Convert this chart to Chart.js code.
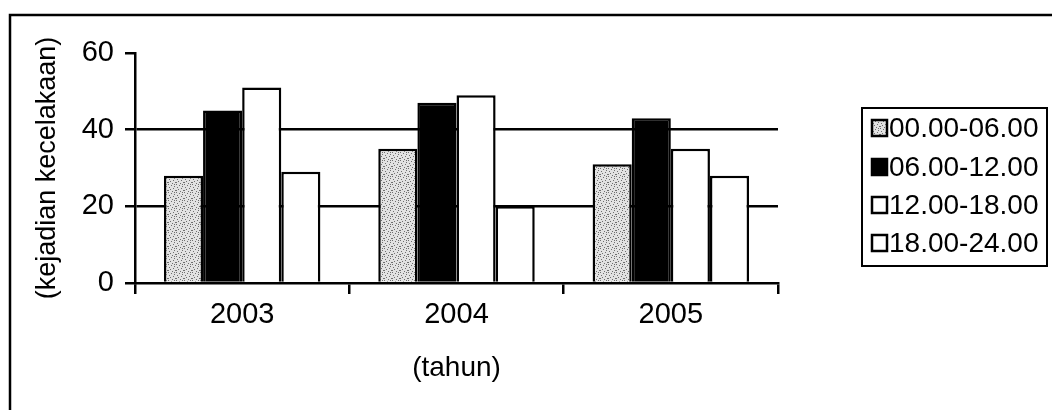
<!DOCTYPE html>
<html>
<head>
<meta charset="utf-8">
<script src="https://cdn.jsdelivr.net/npm/chart.js@4.4.1/dist/chart.umd.min.js"></script>
<style>
    html, body { margin: 0; padding: 0; background: #fff; }
</style>
</head>
<body>
<canvas id="accidentChart" width="1052" height="410"></canvas>
<script>
const years = ['2003', '2004', '2005'];
const seriesLabels = ['00.00-06.00', '06.00-12.00', '12.00-18.00', '18.00-24.00'];
const night = [28, 35, 31];
const morning = [45, 47, 43];
const afternoon = [51, 49, 35];
const evening = [29, 20, 28];
const yTicks = [0, 20, 40, 60];

const FONT = "'Liberation Sans', Arial, sans-serif";
const canvas = document.getElementById('accidentChart');
const ctx = canvas.getContext('2d');

// stippled grey like the scanned original
function stipple() {
    const c = document.createElement('canvas');
    c.width = 8;
    c.height = 8;
    const g = c.getContext('2d');
    g.fillStyle = '#e2e2e2';
    g.fillRect(0, 0, 8, 8);
    g.fillStyle = '#6f6f6f';
    [[0, 0], [3, 1], [6, 2], [1, 3], [5, 4], [2, 5], [7, 6], [4, 7], [6, 0], [0, 6]]
        .forEach(([x, y]) => g.fillRect(x, y, 1, 1));
    return ctx.createPattern(c, 'repeat');
}

const fills = [stipple(), '#000000', '#ffffff', '#ffffff'];
const values = [night, morning, afternoon, evening];

const frameAndLegend = {
    id: 'frameAndLegend',
    afterDraw(chart) {
        const c = chart.ctx;
        c.save();
        c.strokeStyle = '#000';
        c.lineWidth = 2.5;
        // outer chart frame (runs off the right and bottom of the scan)
        c.strokeRect(10, 15, 1200, 600);

        // legend box
        c.lineWidth = 2;
        c.strokeRect(862, 108, 185, 158);
        c.font = `28px ${FONT}`;
        c.textBaseline = 'middle';
        c.textAlign = 'left';
        const rows = [128, 167, 205, 243];
        chart.data.datasets.forEach((ds, i) => {
            const y = rows[i];
            c.fillStyle = ds.backgroundColor;
            c.fillRect(872, y - 8, 15, 16);
            c.lineWidth = 2.5;
            c.strokeRect(872, y - 8, 15, 16);
            c.fillStyle = '#000';
            c.fillText(ds.label, 889, y + 1);
        });
        c.restore();
    }
};

new Chart(ctx, {
    type: 'bar',
    data: {
        labels: years,
        datasets: seriesLabels.map((label, i) => ({
            label: label,
            data: values[i],
            backgroundColor: fills[i],
            borderColor: '#000',
            borderWidth: 2.5,
            categoryPercentage: 0.73,
            barPercentage: 1
        }))
    },
    options: {
        responsive: false,
        animation: false,
        devicePixelRatio: 1,
        layout: {
            padding: { top: 53, right: 274, bottom: 0, left: 0 }
        },
        plugins: {
            legend: { display: false },
            tooltip: { enabled: false }
        },
        scales: {
            x: {
                z: 1,
                grid: {
                    offset: true,
                    color: 'rgba(0,0,0,0)',
                    tickColor: '#000',
                    tickLength: 11,
                    lineWidth: 2.5
                },
                border: { display: true, color: '#000', width: 2.5 },
                ticks: {
                    color: '#000',
                    padding: 4,
                    font: { family: FONT, size: 29 }
                },
                title: {
                    display: true,
                    text: '(tahun)',
                    color: '#000',
                    font: { family: FONT, size: 28 },
                    padding: { top: 0, bottom: 25 }
                },
                afterFit: scale => { scale.height = 127; }
            },
            y: {
                min: 0,
                max: 60,
                afterBuildTicks: scale => {
                    scale.ticks = yTicks.map(v => ({ value: v }));
                },
                grid: {
                    color: c => (c.tick && (c.tick.value === 20 || c.tick.value === 40)) ? '#000' : 'rgba(0,0,0,0)',
                    tickColor: '#000',
                    tickLength: 10,
                    lineWidth: 2.5
                },
                border: { display: true, color: '#000', width: 2.5 },
                ticks: {
                    color: '#000',
                    padding: 11,
                    font: { family: FONT, size: 29 }
                },
                title: {
                    display: true,
                    text: '(kejadian kecelakaan)',
                    color: '#000',
                    font: { family: FONT, size: 27 },
                    padding: { top: 31, bottom: 0 }
                },
                afterFit: scale => { scale.width = 135; }
            }
        }
    },
    plugins: [frameAndLegend]
});
</script>
</body>
</html>
